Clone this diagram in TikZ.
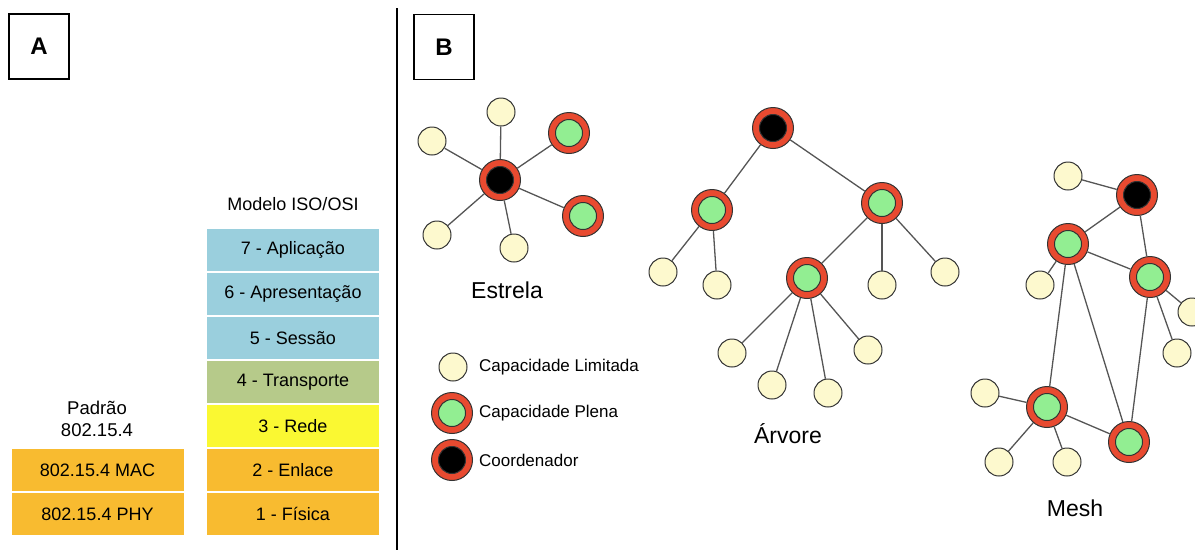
\documentclass[tikz,border=0pt]{standalone}
\usepackage{fontspec}
\setmainfont{Liberation Sans}
\usetikzlibrary{positioning}
\definecolor{aplic}{RGB}{154,207,221}
\definecolor{transp}{RGB}{182,202,138}
\definecolor{rede}{RGB}{250,248,50}
\definecolor{enlace}{RGB}{248,187,48}
\definecolor{limyellow}{RGB}{253,249,206}
\definecolor{plgreen}{RGB}{146,238,146}
\definecolor{ringred}{RGB}{232,74,48}
\definecolor{linha}{RGB}{85,85,85}

\begin{document}
\begin{tikzpicture}[x=1pt,y=-1pt,node distance=44pt,
  camada/.style={minimum width=172pt,minimum height=42.5pt,inner sep=0pt,font=\fontsize{18}{21}\selectfont},
  rotulo/.style={draw,line width=1.3pt,minimum width=60pt,minimum height=65pt,font=\fontsize{24}{28}\selectfont\bfseries},
  limitada/.style={circle,draw=black!80,line width=1pt,fill=limyellow,minimum size=28pt,inner sep=0pt},
  anel/.style={circle,draw=black!80,line width=1pt,fill=ringred,minimum size=41pt,inner sep=0pt,
    path picture={\draw[black!80,line width=1pt,fill=#1] (path picture bounding box.center) circle[radius=13.5pt];}},
  plena/.style={anel=plgreen},
  coordenador/.style={anel=black},
  titulo/.style={font=\fontsize{23}{27}\selectfont},
  legenda/.style={anchor=west,inner sep=0pt,font=\fontsize{17}{20}\selectfont},
  every edge/.style={draw=linha,line width=1.3pt}]
  \useasboundingbox (0,0) rectangle (1195,550);

  % painel A
  \node [rotulo] (A) at (39,46.5) {A};
  \node (osi) at (293,204) {\fontsize{18}{21}\selectfont Modelo ISO/OSI};
  \node [camada,fill=aplic] (c7) at (293,250) {7 - Aplicação};
  \node [camada,fill=aplic,below of=c7] (c6) {6 - Apresentação};
  \node [camada,fill=aplic,below of=c6] (c5) {5 - Sessão};
  \node [camada,fill=transp,below of=c5] (c4) {4 - Transporte};
  \node [camada,fill=rede,below of=c4] (c3) {3 - Rede};
  \node [camada,fill=enlace,below of=c3] (c2) {2 - Enlace};
  \node [camada,fill=enlace,below of=c2] (c1) {1 - Física};
  \node [align=center,font=\fontsize{18.5}{22}\selectfont] (padrao) at (97,419) {Padrão\\802.15.4};
  \node [camada,fill=enlace] (mac) at (97.5,470) {802.15.4 MAC};
  \node [camada,fill=enlace,below of=mac] (phy) {802.15.4 PHY};

  \draw [line width=1.5pt] (397,8) -- (397,550);

  % painel B
  \node [rotulo] (B) at (444,47) {B};

  % estrela
  \node [coordenador] (e0) at (500,180) {};
  \node [limitada] (e1) at (501,112) {};
  \node [limitada] (e2) at (432,141) {};
  \node [plena] (e3) at (569,133) {};
  \node [plena] (e4) at (583,216) {};
  \node [limitada] (e5) at (437,235) {};
  \node [limitada] (e6) at (514,248) {};
  \node [titulo] (estrela) at (507,290) {Estrela};

  \path (e0) edge (e1)
             edge (e2)
             edge (e3)
             edge (e4)
             edge (e5)
             edge (e6);

  % legenda
  \node [limitada] (l1) at (453,367) {};
  \node [legenda] (t1) at (479,367) {Capacidade Limitada};
  \node [plena] (l2) at (452,413) {};
  \node [legenda] (t2) at (479,413) {Capacidade Plena};
  \node [coordenador] (l3) at (452,460) {};
  \node [legenda] (t3) at (479,460) {Coordenador};

  % arvore
  \node [coordenador] (a0) at (773,128) {};
  \node [plena] (a1) at (712,210) {};
  \node [plena] (a2) at (882,203) {};
  \node [limitada] (a3) at (663,272) {};
  \node [limitada] (a4) at (717,285) {};
  \node [plena] (a5) at (807,278) {};
  \node [limitada] (a6) at (882,285) {};
  \node [limitada] (a7) at (945,272) {};
  \node [limitada] (a8) at (732,353) {};
  \node [limitada] (a9) at (772,385) {};
  \node [limitada] (a10) at (828,393) {};
  \node [limitada] (a11) at (868,350) {};
  \node [titulo] (arvore) at (788,434) {Árvore};

  \path (a0) edge (a1)
             edge (a2)
        (a1) edge (a3)
             edge (a4)
        (a2) edge (a5)
             edge (a6)
             edge (a7)
        (a5) edge (a8)
             edge (a9)
             edge (a10)
             edge (a11);

  % mesh
  \node [coordenador] (m0) at (1137,195) {};
  \node [limitada] (m1) at (1068,176) {};
  \node [plena] (m2) at (1068,244) {};
  \node [plena] (m3) at (1150,277) {};
  \node [limitada] (m4) at (1040,285) {};
  \node [limitada] (m5) at (1192,312) {};
  \node [limitada] (m6) at (1177,353) {};
  \node [plena] (m7) at (1047,407) {};
  \node [plena] (m8) at (1129,442) {};
  \node [limitada] (m9) at (985,393) {};
  \node [limitada] (m10) at (999,462) {};
  \node [limitada] (m11) at (1067,462) {};
  \node [titulo] (mesh) at (1075,508) {Mesh};

  \path (m0) edge (m1)
             edge (m2)
             edge (m3)
        (m2) edge (m3)
             edge (m4)
             edge (m7)
             edge (m8)
        (m3) edge (m5)
             edge (m6)
             edge (m8)
        (m7) edge (m8)
             edge (m9)
             edge (m10)
             edge (m11);
\end{tikzpicture}
\end{document}
